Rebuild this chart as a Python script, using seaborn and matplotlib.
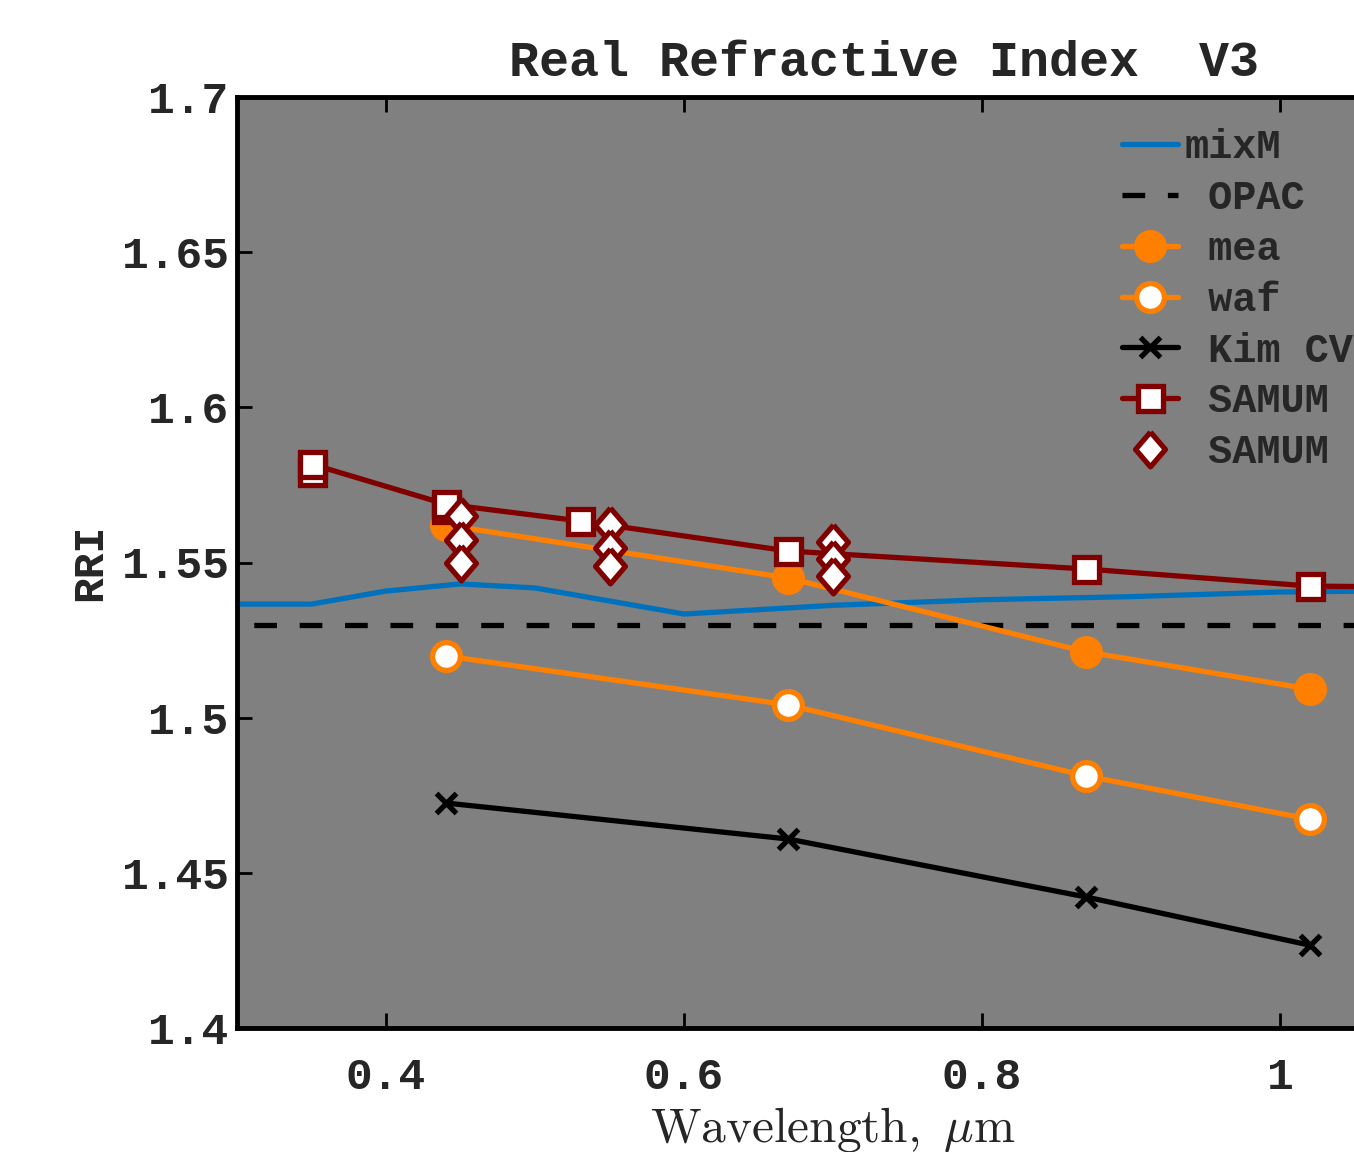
import numpy as np
import seaborn as sns
import matplotlib.pyplot as plt
from matplotlib.ticker import FixedLocator

# ---- data ----
wl_mix = [0.30, 0.35, 0.40, 0.45, 0.50, 0.55, 0.60, 0.70, 0.80, 0.90, 1.00, 1.10, 1.20]
rri_mix = [1.5366, 1.5366, 1.5408, 1.5431, 1.5418, 1.5376, 1.5334, 1.5362, 1.5380, 1.5390, 1.5405, 1.5410, 1.5412]

wl_opac = [0.25, 1.25]
rri_opac = [1.530, 1.530]

wl_aero = [0.44, 0.67, 0.87, 1.02]
rri_mea = [1.5621, 1.5450, 1.5212, 1.5092]
rri_waf = [1.5199, 1.5041, 1.4812, 1.4673]
rri_kim = [1.4725, 1.4609, 1.4422, 1.4267]

wl_samum_sq = [0.35, 0.44, 0.53, 0.67, 0.87, 1.02, 1.064]
rri_samum_sq = [1.5817, 1.5688, 1.5634, 1.5537, 1.5479, 1.5424, 1.5422]
wl_samum_sq_extra = [0.35, 0.44]
rri_samum_sq_extra = [1.5792, 1.5672]

wl_samum_dm = [0.45, 0.45, 0.45, 0.55, 0.55, 0.55, 0.70, 0.70, 0.70]
rri_samum_dm = [1.5650, 1.5572, 1.5498, 1.5621, 1.5547, 1.5490, 1.5566, 1.5510, 1.5457]

xticks = [0.4, 0.6, 0.8, 1.0]
xtick_labels = ["0.4", "0.6", "0.8", "1"]
yticks = [1.4, 1.45, 1.5, 1.55, 1.6, 1.65, 1.7]
ytick_labels = ["1.4", "1.45", "1.5", "1.55", "1.6", "1.65", "1.7"]

BLUE = "#0072BD"
ORANGE = "#FF8000"
MAROON = "#800000"
GRAY = "#808080"

sns.set_style("ticks")
plt.rcParams["font.family"] = ["Liberation Mono", "DejaVu Sans"]
plt.rcParams["font.weight"] = "bold"
plt.rcParams["mathtext.fontset"] = "cm"

W, H = 1354, 1152
fig = plt.figure(figsize=(W / 100, H / 100), dpi=100)
xmin, xmax = 0.3, 1.1
px_per_unit = 1490
ax_w = (xmax - xmin) * px_per_unit
ax = fig.add_axes([237 / W, (H - 1028) / H, ax_w / W, 931 / H])
ax.set_facecolor(GRAY)

diamond = [(0, 1), (0.86, 0), (0, -1), (-0.86, 0), (0, 1)]
LW = 3.8

sns.lineplot(x=wl_mix, y=rri_mix, ax=ax, color=BLUE, linewidth=LW, label="mixM",
             estimator=None, sort=False)
sns.lineplot(x=wl_opac, y=rri_opac, ax=ax, color="black", linewidth=LW,
             linestyle=(0, (4.3, 4.3)), label=" OPAC", estimator=None, sort=False)
sns.lineplot(x=wl_aero, y=rri_mea, ax=ax, color=ORANGE, linewidth=LW, marker="o",
             markersize=23, markerfacecolor=ORANGE, markeredgecolor=ORANGE,
             label=" mea", estimator=None, sort=False)
sns.lineplot(x=wl_aero, y=rri_waf, ax=ax, color=ORANGE, linewidth=LW, marker="o",
             markersize=20, markerfacecolor="white", markeredgecolor=ORANGE,
             markeredgewidth=3.8, label=" waf", estimator=None, sort=False)
sns.lineplot(x=wl_aero, y=rri_kim, ax=ax, color="black", linewidth=LW, marker="x",
             markersize=14.5, markeredgewidth=3.8, markeredgecolor="black",
             label=" Kim CV", estimator=None, sort=False)
sns.lineplot(x=wl_samum_sq_extra, y=rri_samum_sq_extra, ax=ax, color=MAROON,
             linestyle="", marker="s", markersize=18, markerfacecolor="white",
             markeredgecolor=MAROON, markeredgewidth=3.8, label="_nolegend_",
             estimator=None, sort=False)
sns.lineplot(x=wl_samum_sq, y=rri_samum_sq, ax=ax, color=MAROON, linewidth=LW, marker="s",
             markersize=18, markerfacecolor="white", markeredgecolor=MAROON,
             markeredgewidth=3.8, label=" SAMUM", estimator=None, sort=False)
sns.lineplot(x=wl_samum_dm, y=rri_samum_dm, ax=ax, color=MAROON, linestyle="",
             marker=diamond, markersize=25, markerfacecolor="white",
             markeredgecolor=MAROON, markeredgewidth=3.8, label=" SAMUM",
             estimator=None, sort=False)

ax.set_xlim(xmin, xmax)
ax.set_ylim(1.4, 1.7)
ax.xaxis.set_major_locator(FixedLocator(xticks))
ax.set_xticklabels(xtick_labels)
ax.yaxis.set_major_locator(FixedLocator(yticks))
ax.set_yticklabels(ytick_labels)
ax.tick_params(axis="both", which="major", direction="in", length=11, width=2,
               labelsize=32, top=True, right=True, color="black")
ax.tick_params(axis="x", pad=21)
ax.tick_params(axis="y", pad=6)
for lab in ax.get_xticklabels() + ax.get_yticklabels():
    lab.set_fontweight("bold")
for sp in ax.spines.values():
    sp.set_linewidth(3.5)
    sp.set_color("black")
    sp.set_visible(True)

ax.set_title("Real Refractive Index  V3", fontsize=36, fontweight="bold", pad=15,
             x=(884 - 237) / ax_w)
ax.set_ylabel("RRI", fontsize=31, fontweight="bold", labelpad=8)
ax.set_xlabel(r"$\mathrm{Wavelength,}\ \mu\mathrm{m}$", fontsize=35.5, labelpad=5)

leg = ax.legend(loc="upper left", bbox_to_anchor=(1122 / W, 1 - 128 / H),
                bbox_transform=fig.transFigure, frameon=False,
                handlelength=1.4, handletextpad=0.15, labelspacing=0.32,
                borderpad=0, borderaxespad=0, prop={"weight": "bold", "size": 29})

fig.savefig("out.png", dpi=100)
